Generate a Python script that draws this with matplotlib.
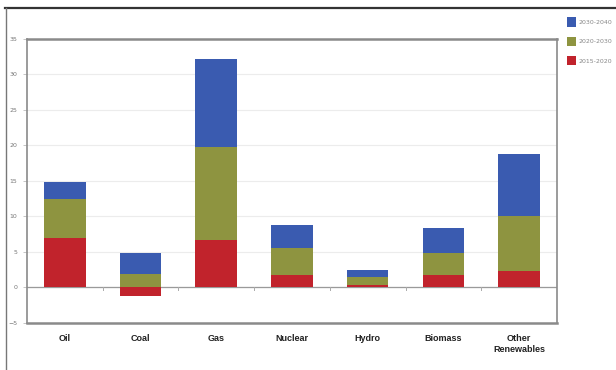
import matplotlib.pyplot as plt
import numpy as np

categories = ["Oil", "Coal", "Gas", "Nuclear", "Hydro", "Biomass", "Other\nRenewables"]
p2015_2020 = [7.0, -1.2, 6.7, 1.8, 0.4, 1.8, 2.3]
p2020_2030 = [5.5, 1.9, 13.1, 3.8, 1.1, 3.1, 7.7]
p2030_2040 = [2.4, 3.0, 12.4, 3.2, 0.9, 3.5, 8.8]

red = "#c1232c"
green = "#8e9440"
blue = "#3a5bb0"

fig = plt.figure(figsize=(6.16, 3.70), dpi=100)
ax = fig.add_axes([0.044, 0.127, 0.860, 0.768])

x = np.arange(len(categories))
w = 0.55
# negative values hang below zero, the rest stack upward
pos_base = np.clip(p2015_2020, 0, None)
ax.bar(x, p2015_2020, w, color=red, label="2015-2020", zorder=3)
ax.bar(x, p2020_2030, w, bottom=pos_base, color=green, label="2020-2030", zorder=3)
ax.bar(x, p2030_2040, w, bottom=pos_base + np.array(p2020_2030), color=blue,
       label="2030-2040", zorder=3)

ax.set_xlim(-0.5, len(categories) - 0.5)
ax.set_ylim(-5, 35)
ax.set_yticks(range(-5, 36, 5))
ax.yaxis.grid(True, color="#ececec", lw=0.8, zorder=0)
ax.axhline(0, color="#9a9a9a", lw=0.9, zorder=2)

# small marks between categories on the zero line
for b in np.arange(0.5, len(categories) - 1, 1.0):
    ax.plot([b, b], [0, -0.35], color="#aaaaaa", lw=0.7, zorder=2)

ax.set_xticks(x)
ax.set_xticklabels(categories, fontsize=6.5, fontweight="bold", color="#222222",
                   family="Liberation Sans")
ax.tick_params(axis="x", length=0, pad=8)
ax.tick_params(axis="y", labelsize=4.5, labelcolor="#777777", length=3, color="#bbbbbb", width=0.6, pad=4)

for s in ax.spines.values():
    s.set_color("#8a8a8a")
    s.set_linewidth(1.8)
ax.spines["left"].set_linewidth(1.2)
ax.spines["right"].set_linewidth(1.2)

handles, labels = ax.get_legend_handles_labels()
fig.legend(handles[::-1], labels[::-1], loc="upper left", bbox_to_anchor=(0.912, 0.968),
           frameon=False, fontsize=4.5, labelcolor="#888888", handlelength=1.3,
           handleheight=1.9, labelspacing=1.6, handletextpad=0.4)

# outer frame on the top and left
fig.add_artist(plt.Line2D([0.008, 1.0], [0.978, 0.978], color="#333333", lw=1.6))
fig.add_artist(plt.Line2D([0.010, 0.010], [0.0, 0.978], color="#777777", lw=1.0))

fig.savefig("out.png", dpi=100)
